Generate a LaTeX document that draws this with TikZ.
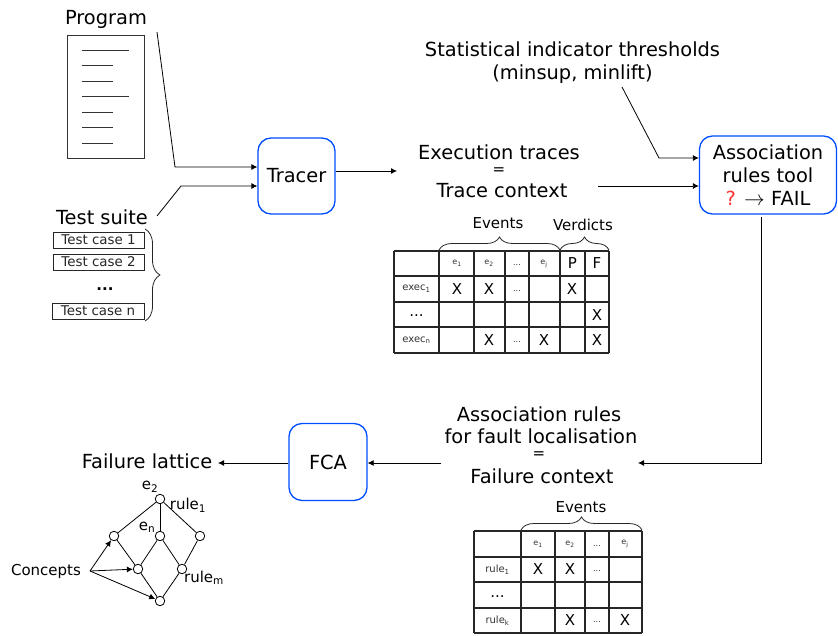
\documentclass[tikz,border=0pt]{standalone}
\usepackage{fontspec}
\setmainfont{DejaVu Sans}
\usetikzlibrary{arrows.meta,decorations.pathreplacing}

\begin{document}
\begin{tikzpicture}
    [%%%%%%%%%%%%%%%%%%%%%%%%%%%%%%
        x=1pt,y=-1pt,
        >={Latex[length=6pt,width=6pt]},
        big/.style={inner sep=0pt,align=center,font=\fontsize{19.4}{22.5}\selectfont},
        equal/.style={inner sep=0pt,text height=7pt,text depth=0pt,font=\fontsize{15}{15}\selectfont},
        mid/.style={inner sep=0pt,font=\fontsize{15}{18}\selectfont},
        small/.style={inner sep=0pt,font=\fontsize{10}{11}\selectfont,black!80},
        tiny/.style={inner sep=0pt,font=\fontsize{8}{10}\selectfont,black!80},
        toolbox/.style={rectangle,draw=blue!70!cyan,line width=1.3pt,rounded corners=13pt,inner sep=0pt,align=center,font=\fontsize{19.4}{23}\selectfont},
        casebox/.style={rectangle,draw=black!80,inner sep=0pt,minimum height=16pt,font=\fontsize{13.4}{15}\selectfont,black!85},
        conc/.style={circle,draw=black,fill=white,line width=0.8pt,inner sep=0pt,minimum size=9.5pt},
        wire/.style={black,line width=0.8pt},
        grid/.style={black!85,line width=1.2pt},
        bracket/.style={decorate,decoration={brace,amplitude=13pt},black!85,line width=0.8pt},
    ]%%%%%%%%%%%%%%%%%%%%%%%%%%%%%%

\useasboundingbox (0,0) rectangle (838,636);

% program and test suite
\node[big] (program) at (106,19) {Program};
\draw[black!80,line width=0.9pt] (67,35) rectangle (144,158);
\foreach \y/\xend in {50/129,65/113,81/113,96/129,112/113,127/113,143/113}{
    \draw[black!80,line width=0.9pt] (82,\y) -- (\xend,\y);
}
\node[big] (suite) at (102,217) {Test suite};
\node[casebox,minimum width=91pt] (case1) at (98.5,240) {Test case 1};
\node[casebox,minimum width=91pt] (case2) at (98.5,262) {Test case 2};
\node[inner sep=0pt,font=\fontsize{15}{18}\selectfont\bfseries] (casedots) at (105,289) {...};
\node[casebox,minimum width=92pt] (casen) at (98,311) {Test case n};
\coordinate (casetop) at (145,229);
\coordinate (casebot) at (145,321);
\draw[bracket,decoration={amplitude=15pt}] (casetop) -- (casebot);

% tools
\node[toolbox,minimum width=77pt,minimum height=76pt] (tracer) at (296.5,176) {Tracer};
\node[toolbox,minimum width=137pt,minimum height=78pt] (assoc) at (768,175) {Association\hspace{4pt}\\ rules tool\\ {\color{red!80}?} $\rightarrow$ FAIL};
\node[toolbox,minimum width=78pt,minimum height=77pt] (fca) at (328,462) {FCA};

\node[big] (thresholds) at (572.5,62.5) {Statistical indicator thresholds\\ (minsup, minlift)};
\node[big] (traces) at (499,152) {Execution traces};
\node[equal] (traceseq) at (499,171) {=};
\node[big] (tracectx) at (502,191) {Trace context};

\node[big] (rules1) at (539,414) {Association rules};
\node[big] (rules2) at (541,436) {for fault localisation};
\node[equal] (ruleseq) at (539,455) {=};
\node[big] (rulesctx) at (542,476) {Failure context};
\node[big] (lattice) at (147,461) {Failure lattice};

% connectors
\coordinate (progout) at (157,32);
\coordinate (progbend) at (175,167);
\coordinate (suiteout) at (157,216);
\coordinate (suitebend) at (181,186);
\coordinate (tracesin) at (397,171);
\coordinate (ctxout) at (598,186);
\coordinate (throut) at (622,87);
\coordinate (thrbend) at (659,158);
\coordinate (assocout) at (761,217);
\coordinate (assocbend) at (761,463);
\coordinate (rulesin) at (638,463);
\coordinate (rulesout) at (441,463);
\coordinate (latticein) at (218,463);

\draw[wire,->] (progout) -- (progbend) -- (progbend -| tracer.west);
\draw[wire,->] (suiteout) -- (suitebend) -- (suitebend -| tracer.west);
\draw[wire,->] (tracer.east |- tracesin) -- (tracesin);
\draw[wire,->] (ctxout) -- (ctxout -| assoc.west);
\draw[wire,->] (throut) -- (thrbend) -- (thrbend -| assoc.west);
\draw[wire,->] (assocout) -- (assocbend) -- (rulesin);
\draw[wire,->] (rulesout) -- (rulesout -| fca.east);
\draw[wire,->] (fca.west |- rulesout) -- (latticein);

% trace context table
\foreach \x in {394,439,474,505,529,560,585,609}{
    \draw[grid] (\x,251) -- (\x,353);
}
\foreach \y in {251,276,302,327,353}{
    \draw[grid] (394,\y) -- (609,\y);
}
\node[mid] (evtop) at (498,223) {Events};
\node[mid] (verd) at (583,225) {Verdicts};
\coordinate (evl) at (439,250);
\coordinate (evr) at (560,250);
\coordinate (vdr) at (609,250);
\draw[bracket] (evl) -- (evr);
\draw[bracket] (evr) -- (vdr);

\foreach \x/\n in {457/1,489/2,544/j}{
    \node[tiny] (te\n) at (\x,263.5) {e\textsubscript{\n}};
}
\node[tiny] (tedots) at (517,265) {...};
\node[mid] (tp) at (572.5,263.5) {P};
\node[mid] (tf) at (597,263.5) {F};
\node[small] (exec1) at (416.5,289) {exec\textsubscript{1}};
\node[mid] (dots1) at (416.5,316) {...};
\node[small] (execn) at (416.5,340) {exec\textsubscript{n}};
\foreach \x/\y [count=\i] in {457/289,489/289,572/289,597/315,489/340,544/340,597/340}{
    \node[mid] (tx\i) at (\x,\y) {X};
}
\node[tiny] (tdots1) at (517,291) {...};
\node[tiny] (tdots2) at (517,342) {...};

% failure context table
\foreach \x in {474,521,555,585,609,642}{
    \draw[grid] (\x,531) -- (\x,633);
}
\foreach \y in {531,557,582,608,633}{
    \draw[grid] (474,\y) -- (642,\y);
}
\node[mid] (evbot) at (581,507) {Events};
\coordinate (fvl) at (521,530);
\coordinate (fvr) at (642,530);
\draw[bracket] (fvl) -- (fvr);

\foreach \x/\n in {538/1,570/2,625/j}{
    \node[tiny] (fe\n) at (\x,544) {e\textsubscript{\n}};
}
\node[tiny] (fedots) at (597,546) {...};
\node[small] (rule1) at (497.5,569.5) {rule\textsubscript{1}};
\node[mid] (dots2) at (497.5,597) {...};
\node[small] (rulek) at (497.5,620.5) {rule\textsubscript{k}};
\foreach \x/\y [count=\i] in {538/569.5,570/569.5,570/620.5,625/620.5}{
    \node[mid] (fx\i) at (\x,\y) {X};
}
\node[tiny] (fdots1) at (597,571.5) {...};
\node[tiny] (fdots2) at (597,622.5) {...};

% lattice
\node[conc] (top) at (160,499) {};
\node[conc] (left) at (114,536) {};
\node[conc] (centre) at (160,536) {};
\node[conc] (right) at (200,536) {};
\node[conc] (lowl) at (138,569) {};
\node[conc] (lowr) at (182,569) {};
\node[conc] (bottom) at (160,601) {};
\foreach \a/\b in {top/left,top/centre,top/right,left/lowl,centre/lowl,centre/lowr,right/lowr,lowl/bottom,lowr/bottom}{
    \draw[wire] (\a) -- (\b);
}
\node[mid] (concepts) at (46,571) {Concepts};
\coordinate (conout) at (90,571);
\foreach \t in {left,lowl,bottom}{
    \draw[wire,->] (conout) -- (\t);
}
\node[mid] (le2) at (150,487) {e\textsubscript{2}};
\node[mid] (lrule1) at (188,505) {rule\textsubscript{1}};
\node[mid] (len) at (147,527) {e\textsubscript{n}};
\node[mid] (lrulem) at (204,578) {rule\textsubscript{m}};
\end{tikzpicture}
\end{document}
